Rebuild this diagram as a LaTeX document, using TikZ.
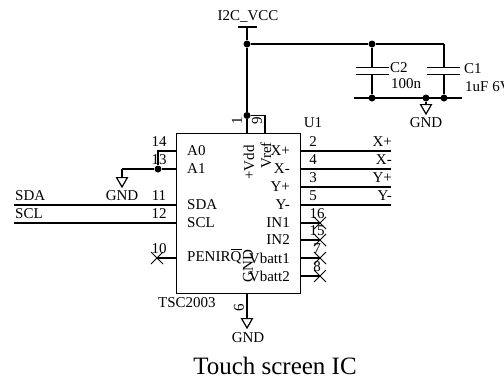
\documentclass[tikz,border=0pt]{standalone}
\usepackage{fontspec}
\setmainfont{Liberation Serif}
\usetikzlibrary{shapes.geometric}
\usetikzlibrary{positioning}
\usetikzlibrary{calc}

\tikzset{
    wire/.style={line width=1.4pt},
    lbl/.style={inner sep=0pt, font=\fontsize{15}{15}\selectfont},
    dot/.style={circle, fill=black, inner sep=0pt, minimum size=7pt},
    gndsym/.style={draw, line width=1.2pt, regular polygon, regular polygon sides=3, shape border rotate=180,
                   inner sep=0pt, minimum size=12.5pt, anchor=north},
}

\begin{document}
\begin{tikzpicture}[x=1pt, y=-1pt]
            \useasboundingbox (0,0) rectangle (504,381);

            % Define chip
            \node[draw, line width=1pt, minimum width=124pt, minimum height=160pt, anchor=north west, inner sep=0pt] (ic) at (176,133) {};
            \node[lbl, anchor=west] at (158,303) (part) {TSC2003};
            \node[lbl] at (313,123) (ref) {U1};

            % Supply side
            \node[lbl] at (248,16) (vcc) {I2C\_VCC};
            \coordinate (vcctop) at (247,27);
            \node[dot] (jtop) at (247,44) {};
            \node[dot] (jc2) at (372,44) {};
            \coordinate (c1top) at (444,44);
            \node[dot] (jpin) at (247,115.5) {};
            \coordinate (pin1) at (247,133);
            \coordinate (pin9top) at (265,115.5);
            \coordinate (pin9) at (265,133);
            \draw[wire] (238,27) -- (257,27);
            \draw[wire] (vcctop) -- (jtop);
            \draw[wire] (jtop) -- (jpin);
            \draw[wire] (jpin) -- (pin1);
            \draw[wire] (jpin) -- (pin9top) -- (pin9);
            \draw[wire] (jtop) -- (jc2);
            \draw[wire] (jc2) -- (c1top);

            % Capacitors
            \node[dot] (jc2b) at (372,98) {};
            \node[dot] (jgnd) at (426,98) {};
            \node[dot] (jc1b) at (444,98) {};
            \coordinate (c2a) at (372,67.5);
            \coordinate (c2b) at (372,74.5);
            \coordinate (c1a) at (444,67.5);
            \coordinate (c1b) at (444,74.5);
            \draw[wire] (jc2) -- (c2a);
            \draw[wire] (c2b) -- (jc2b);
            \draw[wire] (c1top) -- (c1a);
            \draw[wire] (c1b) -- (jc1b);
            \draw[wire] (356,67.5) -- (389,67.5);
            \draw[wire] (356,74.5) -- (389,74.5);
            \draw[wire] (427,67.5) -- (460,67.5);
            \draw[wire] (427,74.5) -- (460,74.5);
            \draw[wire] (354,98) -- (462,98);
            \node[lbl, anchor=west] at (390,68) (c2) {C2};
            \node[lbl, anchor=west] at (391,84) (c2val) {100n};
            \node[lbl, anchor=west] at (464,69) (c1) {C1};
            \node[lbl, anchor=west] at (465,87) (c1val) {1uF 6V};
            \node[gndsym] (gnda) at (426,104) {};
            \draw[wire] (jgnd) -- (gnda);
            \node[lbl] at (426,123) (gndatxt) {GND};

            % Left pins
            \foreach \name/\num/\y/\txt in {a0/14/151/A0, a1/13/169/A1, sda/11/205/SDA, scl/12/223/SCL, pen/10/258/PENIRQ}{
                \coordinate (\name) at (176,\y);
                \node[lbl] at (159,\y-9) (n\name) {\num};
                \node[lbl, anchor=west] at (187,\y) (t\name) {\txt};
            }
            \node[dot] (ja1) at (158,169) {};
            \coordinate (a0end) at (158,151);
            \coordinate (gndbend) at (122,169);
            \draw[wire] (a0) -- (a0end) -- (ja1);
            \draw[wire] (a1) -- (ja1) -- (gndbend);
            \node[gndsym] (gndb) at (122,177) {};
            \draw[wire] (gndbend) -- (gndb);
            \node[lbl] at (122,196) (gndbtxt) {GND};
            \node[lbl, anchor=west] at (15,196) (sdatxt) {SDA};
            \node[lbl, anchor=west] at (15,214) (scltxt) {SCL};
            \coordinate (sdaend) at (14,205);
            \coordinate (sclend) at (14,223);
            \draw[wire] (sdaend) -- (sda);
            \draw[wire] (sclend) -- (scl);
            \draw[line width=1pt] (231,249) -- (242,249);
            \coordinate (penend) at (157,258);
            \draw[wire] (pen) -- (penend);
            \draw[line width=1pt] (151,252) -- (163,264) (151,264) -- (163,252);

            % Right pins with signals
            \foreach \name/\num/\y/\txt/\sig in {xp/2/151/X+/X+, xm/4/169/X-/X-, yp/3/187/Y+/Y+, ym/5/205/Y-/Y-}{
                \coordinate (\name) at (300,\y);
                \coordinate (\name end) at (391,\y);
                \draw[wire] (\name) -- (\name end);
                \node[lbl] at (313,\y-9) (n\name) {\num};
                \node[lbl, anchor=east] at (290,\y) (t\name) {\txt};
                \node[lbl, anchor=east] at (392,\y-9) (s\name) {\sig};
            }

            % Right pins left open
            \foreach \name/\num/\y/\txt in {ina/16/223/IN1, inb/15/240/IN2, bata/7/258/Vbatt1, batb/8/276/Vbatt2}{
                \coordinate (\name) at (300,\y);
                \coordinate (\name end) at (320,\y);
                \draw[wire] (\name) -- (\name end);
                \draw[line width=1pt] (314,\y-6) -- (326,\y+6) (314,\y+6) -- (326,\y-6);
                \node[lbl] at (317,\y-9) (n\name) {\num};
                \node[lbl, anchor=east] at (290,\y) (t\name) {\txt};
            }

            % Rotated pin labels
            \node[lbl, rotate=90] at (237,121) (n1) {1};
            \node[lbl, rotate=90] at (257,121) (n9) {9};
            \node[lbl, rotate=90, anchor=east] at (249,145) (tvdd) {+Vdd};
            \node[lbl, rotate=90, anchor=east] at (266,142) (tvref) {Vref};
            \node[lbl, rotate=90] at (248,266) (tgnd) {GND};

            % Bottom pin
            \coordinate (pin6) at (247,293);
            \node[gndsym] (gndc) at (247,318) {};
            \draw[wire] (pin6) -- (gndc);
            \node[lbl, rotate=90] at (239,308) (n6) {6};
            \node[lbl] at (248,338) (gndctxt) {GND};

            % Caption
            \node[inner sep=0pt, font=\fontsize{25}{25}\selectfont] at (275,366) (caption) {Touch screen IC};
\end{tikzpicture}
\end{document}
